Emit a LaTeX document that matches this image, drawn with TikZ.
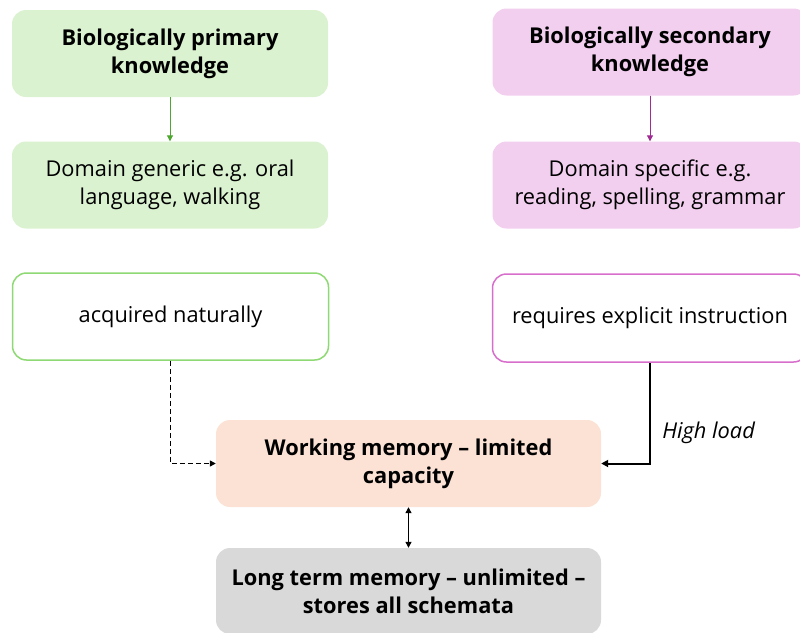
\documentclass[tikz,border=0pt]{standalone}
\usepackage{fontspec}
\setmainfont{Open Sans}
\usetikzlibrary{arrows.meta}
\definecolor{greenfill}{HTML}{DAF2D0}
\definecolor{greenline}{HTML}{8ED973}
\definecolor{greenarrow}{HTML}{4EA72E}
\definecolor{pinkfill}{HTML}{F2CEEF}
\definecolor{pinkline}{HTML}{D86ECC}
\definecolor{pinkarrow}{HTML}{A02B93}
\definecolor{peachfill}{HTML}{FBE2D5}
\definecolor{greyfill}{HTML}{D9D9D9}
\tikzset{
  box/.style={rectangle, rounded corners=14pt, align=center, inner sep=4pt,
    minimum width=316pt, minimum height=87pt, font=\fontsize{21.8}{28}\selectfont},
  headbox/.style={box, font=\fontsize{21.8}{28}\selectfont\bfseries},
  link/.style={line width=1pt, -{Triangle[length=6pt,width=6pt]}},
}
\begin{document}
\begin{tikzpicture}[x=1pt,y=-1pt]
\useasboundingbox (0,0) rectangle (800,632);
\clip (0,0) rectangle (800,632);
% left column: primary knowledge
\node[headbox, fill=greenfill] (prim) at (170,53.5) {Biologically primary\\knowledge};
\node[box, fill=greenfill] (gen) at (170,185) {Domain generic e.g. oral\\language, walking};
\node[box, draw=greenline, line width=1.5pt, fill=white] (nat) at (170.5,316.5) {acquired naturally};
% right column: secondary knowledge
\node[headbox, fill=pinkfill, minimum width=315pt] (sec) at (650,52) {Biologically secondary\\knowledge};
\node[box, fill=pinkfill, minimum width=315pt] (spec) at (650,185) {Domain specific e.g.\\reading, spelling, grammar};
\node[box, draw=pinkline, line width=1.5pt, fill=white, minimum width=315pt, minimum height=88pt] (expl) at (650,318) {requires explicit instruction};
% memory stores
\node[headbox, fill=peachfill, minimum width=385pt] (wm) at (408.5,463.5) {Working memory -- limited\\capacity};
\node[headbox, fill=greyfill, minimum width=385pt, minimum height=86pt] (ltm) at (408.5,591) {Long term memory -- unlimited --\\stores all schemata};
% connectors
\draw[link, draw=greenarrow, fill=greenarrow] (prim) -- (gen);
\draw[link, draw=pinkarrow, fill=pinkarrow] (sec) -- (spec);
\draw[link, line width=1.3pt, dash pattern=on 5pt off 3pt] (nat.south) |- (wm.west);
\draw[line width=2pt, -{Triangle[length=7pt,width=7pt]}] (expl.south) |- (wm.east)
  node[pos=0.35, anchor=west, xshift=8pt, font=\fontsize{21.8}{24}\selectfont\itshape] {High load};
\draw[line width=1.2pt, {Triangle[length=6pt,width=6pt]}-{Triangle[length=6pt,width=6pt]}] (wm) -- (ltm);
\end{tikzpicture}
\end{document}
